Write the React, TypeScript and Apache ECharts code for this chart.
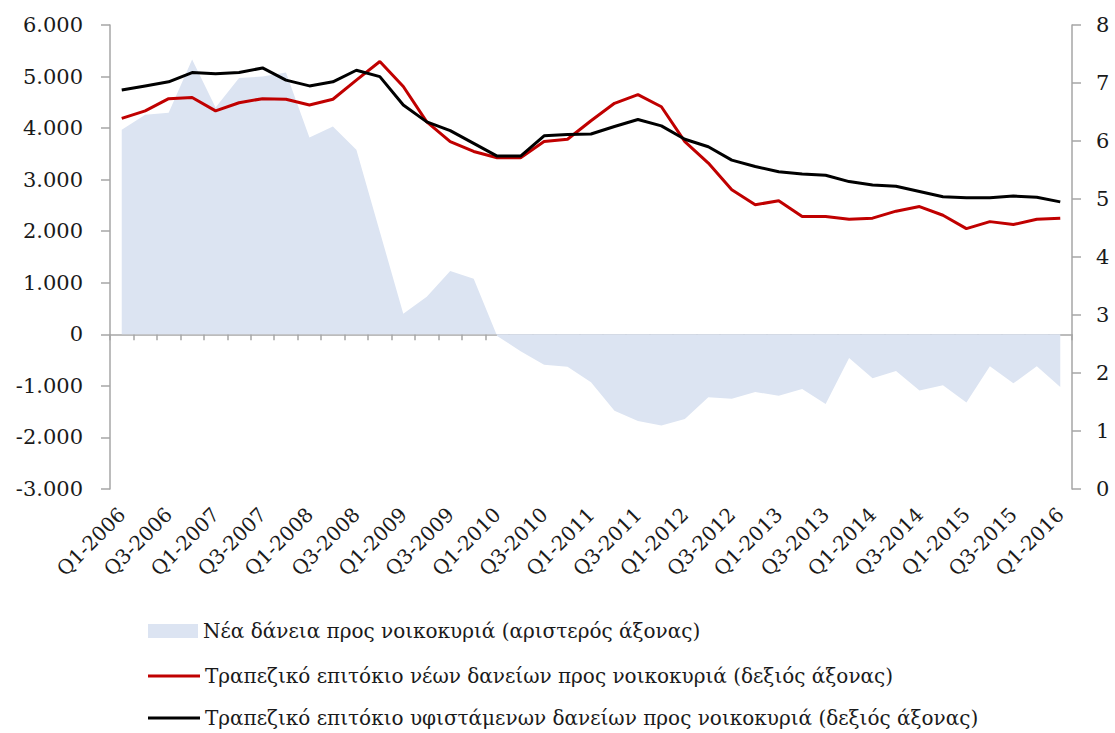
import React, { useEffect, useRef } from "react";
import * as echarts from "echarts";

const categories = [
  "Q1-2006", "Q2-2006", "Q3-2006", "Q4-2006",
  "Q1-2007", "Q2-2007", "Q3-2007", "Q4-2007",
  "Q1-2008", "Q2-2008", "Q3-2008", "Q4-2008",
  "Q1-2009", "Q2-2009", "Q3-2009", "Q4-2009",
  "Q1-2010", "Q2-2010", "Q3-2010", "Q4-2010",
  "Q1-2011", "Q2-2011", "Q3-2011", "Q4-2011",
  "Q1-2012", "Q2-2012", "Q3-2012", "Q4-2012",
  "Q1-2013", "Q2-2013", "Q3-2013", "Q4-2013",
  "Q1-2014", "Q2-2014", "Q3-2014", "Q4-2014",
  "Q1-2015", "Q2-2015", "Q3-2015", "Q4-2015",
  "Q1-2016",
];

const newLoans = [
  3970, 4260, 4300, 5330, 4400, 4970, 5000, 5080, 3820, 4030, 3580, 1990,
  400, 730, 1230, 1080, -30, -330, -590, -630, -930, -1480, -1680, -1770,
  -1640, -1220, -1250, -1120, -1190, -1060, -1350, -460, -850, -710, -1090,
  -990, -1320, -620, -950, -620, -1020,
];

const newRate = [
  6.39, 6.52, 6.73, 6.75, 6.52, 6.66, 6.73, 6.72, 6.62, 6.72, 7.05, 7.37,
  6.94, 6.33, 5.99, 5.82, 5.71, 5.71, 5.99, 6.03, 6.35, 6.65, 6.8, 6.59,
  5.99, 5.62, 5.16, 4.9, 4.97, 4.7, 4.7, 4.65, 4.67, 4.79, 4.87, 4.72,
  4.49, 4.61, 4.56, 4.65, 4.67,
];

const existingRate = [
  6.88, 6.95, 7.02, 7.18, 7.16, 7.18, 7.26, 7.05, 6.95, 7.02, 7.22, 7.11,
  6.62, 6.33, 6.18, 5.96, 5.74, 5.74, 6.09, 6.11, 6.12, 6.25, 6.37, 6.26,
  6.03, 5.9, 5.67, 5.56, 5.47, 5.43, 5.41, 5.3, 5.24, 5.22, 5.13, 5.04,
  5.02, 5.02, 5.05, 5.03, 4.95,
];

const seriesNames = [
  "Νέα δάνεια προς νοικοκυριά (αριστερός άξονας)",
  "Τραπεζικό επιτόκιο νέων δανείων προς νοικοκυριά (δεξιός άξονας)",
  "Τραπεζικό επιτόκιο υφιστάμενων δανείων προς νοικοκυριά (δεξιός άξονας)",
];

const seriesColors = ["#dce4f2", "#c00000", "#000000"];

const FONT = "DejaVu Serif";
const AXIS_GRAY = "#a6a6a6";
const TEXT = "#1a1a1a";

function fmtThousands(v: number): string {
  const s = Math.abs(v).toString().replace(/\B(?=(\d{3})+(?!\d))/g, ".");
  return (v < 0 ? "-" : "") + s;
}

export default function App() {
  const ref = useRef<HTMLDivElement>(null);

  useEffect(() => {
    if (!ref.current) return;
    const chart = echarts.init(ref.current, null, { renderer: "svg" });
    const legendText = { fontFamily: FONT, fontSize: 20, color: TEXT };
    chart.setOption({
      animation: false,
      backgroundColor: "#ffffff",
      grid: { left: 110, right: 43, top: 25, bottom: 244, containLabel: false },
      legend: [
        {
          orient: "horizontal",
          left: 148,
          top: 621,
          padding: 0,
          itemWidth: 50,
          itemHeight: 14,
          textStyle: legendText,
          data: [{ name: seriesNames[0], icon: "rect", itemStyle: { color: seriesColors[0] } }],
        },
        {
          orient: "horizontal",
          left: 148,
          top: 666,
          padding: 0,
          itemWidth: 52,
          itemHeight: 3,
          textStyle: legendText,
          data: [{ name: seriesNames[1], icon: "rect", itemStyle: { color: seriesColors[1] } }],
        },
        {
          orient: "horizontal",
          left: 148,
          top: 708,
          padding: 0,
          itemWidth: 52,
          itemHeight: 3,
          textStyle: legendText,
          data: [{ name: seriesNames[2], icon: "rect", itemStyle: { color: seriesColors[2] } }],
        },
      ],
      xAxis: [
        {
          type: "category",
          data: categories,
          position: "bottom",
          boundaryGap: true,
          axisLine: {
            show: true,
            onZero: true,
            onZeroAxisIndex: 0,
            lineStyle: { color: AXIS_GRAY, width: 1.5 },
          },
          axisTick: { show: true, interval: 0, length: 6, lineStyle: { color: AXIS_GRAY, width: 1.5 } },
          axisLabel: { show: false },
          splitLine: { show: false },
        },
        {
          type: "category",
          data: categories,
          position: "bottom",
          boundaryGap: true,
          axisLine: { show: false, onZero: false },
          axisTick: { show: false },
          axisLabel: {
            show: true,
            interval: 1,
            rotate: 45,
            margin: 22,
            fontFamily: FONT,
            fontSize: 20,
            color: TEXT,
          },
          splitLine: { show: false },
        },
      ],
      yAxis: [
        {
          type: "value",
          position: "left",
          min: -3000,
          max: 6000,
          interval: 1000,
          axisLine: { show: true, lineStyle: { color: AXIS_GRAY, width: 1.5 } },
          axisTick: { show: true, length: 9, lineStyle: { color: AXIS_GRAY, width: 1.5 } },
          axisLabel: {
            margin: 27,
            fontFamily: FONT,
            fontSize: 21,
            color: TEXT,
            formatter: (v: number) => fmtThousands(v),
          },
          splitLine: { show: false },
        },
        {
          type: "value",
          position: "right",
          min: 0,
          max: 8,
          interval: 1,
          axisLine: { show: true, lineStyle: { color: AXIS_GRAY, width: 1.5 } },
          axisTick: { show: true, length: 9, lineStyle: { color: AXIS_GRAY, width: 1.5 } },
          axisLabel: {
            margin: 24,
            fontFamily: FONT,
            fontSize: 21,
            color: TEXT,
          },
          splitLine: { show: false },
        },
      ],
      series: [
        {
          name: seriesNames[0],
          type: "line",
          xAxisIndex: 0,
          yAxisIndex: 0,
          data: newLoans,
          symbol: "none",
          lineStyle: { width: 0, color: seriesColors[0] },
          itemStyle: { color: seriesColors[0] },
          areaStyle: { color: seriesColors[0], opacity: 1 },
          z: 1,
        },
        {
          name: seriesNames[1],
          type: "line",
          xAxisIndex: 0,
          yAxisIndex: 1,
          data: newRate,
          symbol: "none",
          lineStyle: { width: 3, color: seriesColors[1] },
          itemStyle: { color: seriesColors[1] },
          z: 3,
        },
        {
          name: seriesNames[2],
          type: "line",
          xAxisIndex: 0,
          yAxisIndex: 1,
          data: existingRate,
          symbol: "none",
          lineStyle: { width: 3, color: seriesColors[2] },
          itemStyle: { color: seriesColors[2] },
          z: 4,
        },
      ],
    });
    return () => chart.dispose();
  }, []);

  return (
    <div
      ref={ref}
      style={{ width: 1115, height: 733, position: "absolute", left: 0, top: 0 }}
    />
  );
}
